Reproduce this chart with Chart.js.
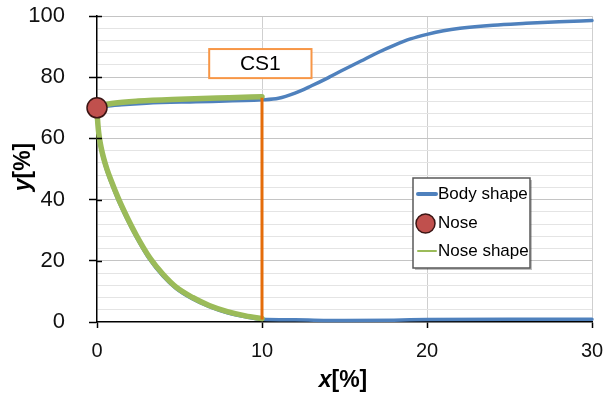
<!DOCTYPE html>
<html><head><meta charset="utf-8">
<script src="https://cdn.jsdelivr.net/npm/chart.js@4.4.1/dist/chart.umd.min.js"></script>
<style>html,body{margin:0;padding:0;background:#fff}#wrap{width:604px;height:396px}</style>
</head><body><div id="wrap"><canvas id="c" width="604" height="396"></canvas></div>
<script>
// ---- data ----
const xTickLabels = [0, 10, 20, 30];
const yTickLabels = [0, 20, 40, 60, 80, 100];

const bodyUpperX = [0, 0.5, 1.5, 3, 6, 10, 11, 12, 13, 14, 15, 16, 17, 18, 19, 20, 21, 22, 24, 26, 28, 30];
const bodyUpperY = [70, 70.5, 71, 71.5, 72, 72.6, 73.1, 74.8, 77.2, 79.8, 82.6, 85.3, 88, 90.4, 92.5, 94, 95.2, 96, 97, 97.6, 98.1, 98.5];

const bodyLowerX = [0, 0.03, 0.08, 0.15, 0.25, 0.4, 0.6, 0.85, 1.3, 1.8, 2.4, 3.2, 4.0, 4.8, 5.8, 6.8, 7.9, 9.0, 10, 12, 15, 18, 20, 25, 30];
const bodyLowerY = [70, 65.8, 62.3, 59.3, 56.3, 52.9, 49.3, 45.6, 39.6, 33.8, 27.6, 20.4, 15.0, 10.9, 7.5, 5.0, 3.0, 1.7, 0.9, 0.7, 0.5, 0.6, 0.8, 0.9, 0.9];

const noseUpperX = [0, 1, 2.5, 5, 8, 10];
const noseUpperY = [70.5, 71.5, 72.2, 72.8, 73.3, 73.6];

const noseLowerX = [0, 0.03, 0.08, 0.15, 0.25, 0.4, 0.6, 0.85, 1.3, 1.8, 2.4, 3.2, 4.0, 4.8, 5.8, 6.8, 7.9, 9.0, 10];
const noseLowerY = [70, 66.5, 63, 60, 57, 53.6, 50, 46.3, 40.3, 34.5, 28.2, 21.0, 15.6, 11.4, 8.0, 5.4, 3.4, 2.0, 1.1];

const cs1X = [10, 10];
const cs1Y = [0.8, 73.3];

const noseX = [0];
const noseY = [70];

const cs1Label = 'CS1';
const cs1Box = {x0: 6.8, x1: 13.0, y0: 79.7, y1: 89.2};

const legendLabels = ['Body shape', 'Nose', 'Nose shape'];
const xTitleVar = 'x', yTitleVar = 'y', unitText = '[%]';

// ---- helpers ----
const pts = (xs, ys) => xs.map((x, i) => ({x: x, y: ys[i]}));
const BLUE = '#4F81BD', GREEN = '#9BBB59', ORANGE = '#E46C0A', RED = '#C0504D';
const FONT = '"Liberation Sans", Arial, sans-serif';

const decorPlugin = {
  id: 'decor',
  afterDatasetsDraw(chart) {
    const ctx = chart.ctx, xs = chart.scales.x, ys = chart.scales.y;
    const ca = chart.chartArea;
    ctx.save();
    ctx.strokeStyle = '#000'; ctx.lineWidth = 1.5;
    yTickLabels.forEach(v => {
      if (v === 0) return;
      const py = Math.round(ys.getPixelForValue(v)) + 0.5;
      ctx.beginPath(); ctx.moveTo(ca.left, py); ctx.lineTo(ca.left + 5, py); ctx.stroke();
    });
    const bx0 = xs.getPixelForValue(cs1Box.x0), bx1 = xs.getPixelForValue(cs1Box.x1);
    const by0 = ys.getPixelForValue(cs1Box.y1), by1 = ys.getPixelForValue(cs1Box.y0);
    ctx.fillStyle = '#fff'; ctx.fillRect(bx0, by0, bx1 - bx0, by1 - by0);
    ctx.strokeStyle = '#F79646'; ctx.lineWidth = 2;
    ctx.strokeRect(bx0, by0, bx1 - bx0, by1 - by0);
    ctx.fillStyle = '#000'; ctx.font = '21px ' + FONT;
    ctx.textAlign = 'center'; ctx.textBaseline = 'middle';
    ctx.fillText(cs1Label, (bx0 + bx1) / 2, (by0 + by1) / 2 + 1);

    const lx = 413, ly = 178, lw = 117, lh = 90;
    ctx.fillStyle = 'rgba(0,0,0,0.25)'; ctx.fillRect(lx + 2, ly + 2, lw, lh);
    ctx.fillStyle = '#fff'; ctx.fillRect(lx, ly, lw, lh);
    ctx.strokeStyle = '#595959'; ctx.lineWidth = 1.5;
    ctx.strokeRect(lx, ly, lw, lh);
    ctx.font = '17px ' + FONT; ctx.textAlign = 'left'; ctx.textBaseline = 'middle';
    ctx.strokeStyle = BLUE; ctx.lineWidth = 4; ctx.lineCap = 'round';
    ctx.beginPath(); ctx.moveTo(418, 194); ctx.lineTo(436, 194); ctx.stroke();
    ctx.fillStyle = '#000'; ctx.fillText(legendLabels[0], 438, 194);
    ctx.beginPath(); ctx.arc(425.5, 223.5, 9.5, 0, Math.PI * 2);
    ctx.fillStyle = RED; ctx.fill(); ctx.strokeStyle = '#3b1514'; ctx.lineWidth = 1.5; ctx.stroke();
    ctx.fillStyle = '#000'; ctx.fillText(legendLabels[1], 438, 223);
    ctx.strokeStyle = GREEN; ctx.lineWidth = 2;
    ctx.beginPath(); ctx.moveTo(418, 251); ctx.lineTo(436, 251); ctx.stroke();
    ctx.fillStyle = '#000'; ctx.fillText(legendLabels[2], 438, 251);

    ctx.fillStyle = '#000'; ctx.textBaseline = 'middle'; ctx.textAlign = 'left';
    const f1 = 'italic bold 23px ' + FONT, f2 = 'bold 23px ' + FONT;
    ctx.font = f1; const wx = ctx.measureText(xTitleVar).width;
    ctx.font = f2; const wu = ctx.measureText(unitText).width;
    const cx = 343, cy = 381;
    ctx.font = f1; ctx.fillText(xTitleVar, cx - (wx + wu) / 2, cy);
    ctx.font = f2; ctx.fillText(unitText, cx - (wx + wu) / 2 + wx, cy);
    ctx.font = f1; const wy = ctx.measureText(yTitleVar).width;
    ctx.save(); ctx.translate(24, 167); ctx.rotate(-Math.PI / 2);
    ctx.font = f1; ctx.fillText(yTitleVar, -(wy + wu) / 2, 0);
    ctx.font = f2; ctx.fillText(unitText, -(wy + wu) / 2 + wy, 0);
    ctx.restore();
    ctx.restore();
  }
};

const lineDs = (label, data, color, width, order) => ({
  label, data, showLine: true, borderColor: color, backgroundColor: color,
  borderWidth: width, pointRadius: 0, pointHoverRadius: 0, fill: false,
  cubicInterpolationMode: 'monotone', order, clip: false,
  borderCapStyle: 'round', borderJoinStyle: 'round'
});

new Chart(document.getElementById('c'), {
  type: 'scatter',
  data: {
    datasets: [
      Object.assign(lineDs('Nose', pts(noseX, noseY), RED, 1.5, 0),
        {showLine: false, pointRadius: 10, pointBackgroundColor: RED, pointBorderColor: '#3b1514', pointBorderWidth: 1.5}),
      Object.assign(lineDs('CS1', pts(cs1X, cs1Y), ORANGE, 3, 1), {cubicInterpolationMode: 'default', tension: 0, borderCapStyle: 'butt'}),
      lineDs('Nose shape', pts(noseUpperX, noseUpperY), GREEN, 5.5, 2),
      lineDs('Nose shape lower', pts(noseLowerX, noseLowerY), GREEN, 5.5, 2),
      lineDs('Body shape', pts(bodyUpperX, bodyUpperY), BLUE, 3.5, 3),
      lineDs('Body shape lower', pts(bodyLowerX, bodyLowerY), BLUE, 3.5, 3)
    ]
  },
  options: {
    responsive: false, animation: false, devicePixelRatio: 1,
    layout: {padding: {left: 0, right: 12, top: 16, bottom: 0}},
    plugins: {legend: {display: false}, tooltip: {enabled: false}},
    scales: {
      x: {
        type: 'linear', min: 0, max: 30,
        afterBuildTicks: s => { s.ticks = xTickLabels.map(v => ({value: v})); },
        afterFit: s => { s.height = 74; s.paddingLeft = 0; s.paddingRight = 0; },
        ticks: {font: {family: FONT, size: 20}, color: '#111', padding: 11, autoSkip: false, maxRotation: 0},
        grid: {
          color: c => c.tick && c.tick.value === 0 ? 'rgba(0,0,0,0)' : '#cfcfcf',
          lineWidth: 1, tickLength: 6, tickColor: '#000', tickWidth: 1.5
        },
        border: {display: true, color: '#000', width: 1.5}
      },
      y: {
        type: 'linear', min: 0, max: 100,
        ticks: {
          stepSize: 4, autoSkip: false, font: {family: FONT, size: 22}, color: '#111', padding: 24,
          callback: v => (yTickLabels.indexOf(v) >= 0 ? String(v) : '')
        },
        afterFit: s => { s.width = 97; s.paddingTop = 0; s.paddingBottom = 0; },
        grid: {
          color: c => {
            const v = c.tick ? c.tick.value : 0;
            if (v === 0) return 'rgba(0,0,0,0)';
            return yTickLabels.indexOf(v) >= 0 ? '#c4c4c4' : '#e4e4e4';
          },
          lineWidth: 1, tickLength: 8,
          tickColor: c => (c.tick && yTickLabels.indexOf(c.tick.value) >= 0 ? '#000' : 'rgba(0,0,0,0)'),
          tickWidth: 1.5
        },
        border: {display: true, color: '#000', width: 1.5}
      }
    }
  },
  plugins: [decorPlugin]
});
</script>
</body></html>
